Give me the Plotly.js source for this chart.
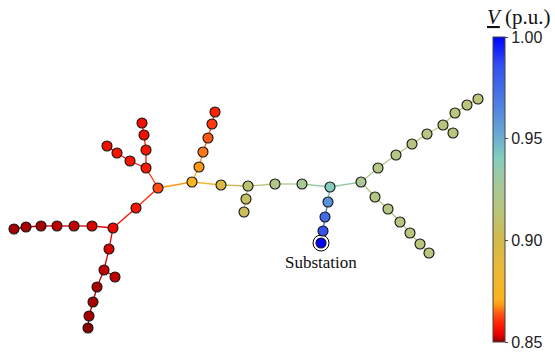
<!DOCTYPE html>
<html>
<head>
<meta charset="utf-8">
<script src="https://cdn.plot.ly/plotly-3.0.1.min.js"></script>
<style>html,body{margin:0;padding:0;background:#fff;}#chart{width:555px;height:356px;}</style>
</head>
<body>
<div id="chart"></div>
<script>
// Node layout positions (graph drawing coordinates) and bus voltages (p.u.)
var nodeX = [321,323,325,328,330,302,275,248,246,244,221,192,199,203,208,212,215,158,146,146,144,142,130,117,107,136,113,92,74,57,41,26,14,109,104,115,97,93,89,88,361,378,396,412,427,443,453,455,467,478,375,388,400,410,420,429];
var nodeY = [243,231,217,202,187,184,184,186,199,212,185,182,167,152,138,124,112,188,168,150,135,123,161,153,146,208,228,226,226,226,226,227,229,249,270,277,287,302,316,328,182,168,155,144,134,125,133,113,105,99,197,209,222,233,244,253];
var voltage = [1.000,0.985,0.975,0.960,0.940,0.926,0.920,0.912,0.907,0.905,0.895,0.873,0.868,0.866,0.864,0.861,0.859,0.863,0.858,0.857,0.856,0.856,0.857,0.857,0.856,0.857,0.855,0.853,0.852,0.852,0.851,0.851,0.851,0.853,0.852,0.852,0.851,0.851,0.851,0.850,0.925,0.919,0.918,0.917,0.916,0.915,0.915,0.915,0.914,0.914,0.919,0.918,0.917,0.916,0.915,0.915];
var edgeFrom = [0,1,2,3,4,5,6,7,8,7,10,11,12,13,14,15,11,17,18,19,20,18,22,23,17,25,26,27,28,29,30,31,26,33,34,34,36,37,38,4,40,41,42,43,44,45,45,47,48,40,50,51,52,53,54];
var edgeTo   = [1,2,3,4,5,6,7,8,9,10,11,12,13,14,15,16,17,18,19,20,21,22,23,24,25,26,27,28,29,30,31,32,33,34,35,36,37,38,39,40,41,42,43,44,45,46,47,48,49,50,51,52,53,54,55];
var substationIndex = 0;
var vMin = 0.85, vMax = 1.00;
var colorTicks = [0.85, 0.90, 0.95, 1.00];

var cscale = [
  [0.0,   'rgb(140,0,0)'],
  [0.023, 'rgb(230,0,0)'],
  [0.057, 'rgb(255,30,0)'],
  [0.09,  'rgb(255,80,20)'],
  [0.12,  'rgb(255,150,20)'],
  [0.14,  'rgb(250,180,30)'],
  [0.24,  'rgb(235,185,55)'],
  [0.333, 'rgb(210,185,75)'],
  [0.433, 'rgb(185,197,125)'],
  [0.52,  'rgb(165,200,155)'],
  [0.607, 'rgb(130,205,190)'],
  [0.667, 'rgb(110,175,210)'],
  [0.773, 'rgb(80,130,225)'],
  [0.907, 'rgb(50,80,240)'],
  [1.0,   'rgb(0,0,255)']
];
function parseRGB(s){ return s.match(/\d+/g).map(Number); }
function colorAt(v){
  var t = Math.max(0, Math.min(1, (v - vMin) / (vMax - vMin)));
  for (var i = 1; i < cscale.length; i++) {
    if (t <= cscale[i][0]) {
      var a = cscale[i-1], b = cscale[i];
      var f = (t - a[0]) / (b[0] - a[0]);
      var ca = parseRGB(a[1]), cb = parseRGB(b[1]);
      return 'rgb(' + ca.map(function(c, k){ return Math.round(c + (cb[k]-c)*f); }).join(',') + ')';
    }
  }
  return cscale[cscale.length-1][1];
}

var traces = [];
for (var e = 0; e < edgeFrom.length; e++) {
  var a = edgeFrom[e], b = edgeTo[e];
  traces.push({
    type: 'scatter', mode: 'lines',
    x: [nodeX[a], nodeX[b]], y: [nodeY[a], nodeY[b]],
    line: {color: colorAt((voltage[a] + voltage[b]) / 2), width: 1.3},
    hoverinfo: 'skip', showlegend: false
  });
}
// outer ring of substation
traces.push({
  type: 'scatter', mode: 'markers',
  x: [nodeX[substationIndex]], y: [nodeY[substationIndex]],
  marker: {size: 16, color: 'white', line: {color: 'black', width: 1}},
  hoverinfo: 'skip', showlegend: false
});
traces.push({
  type: 'scatter', mode: 'markers',
  x: nodeX, y: nodeY,
  marker: {
    size: 10, color: voltage, colorscale: cscale, cmin: vMin, cmax: vMax,
    line: {color: '#111', width: 1.1},
    showscale: true,
    colorbar: {
      x: 493/555, xanchor: 'left', xpad: 0,
      y: 1 - 37/356, yanchor: 'top', ypad: 0,
      lenmode: 'pixels', len: 305,
      thickness: 12,
      outlinewidth: 1, outlinecolor: '#444',
      tickvals: colorTicks, ticktext: colorTicks.map(function(v){ return v.toFixed(2); }),
      ticks: 'outside', ticklen: 3, tickcolor: '#444',
      tickfont: {family: 'Liberation Sans, Arial, sans-serif', size: 16, color: '#222'}
    }
  },
  hoverinfo: 'text', text: voltage.map(function(v){ return v.toFixed(3); }), showlegend: false
});

var layout = {
  width: 555, height: 356,
  margin: {l: 0, r: 0, t: 0, b: 0},
  paper_bgcolor: 'white', plot_bgcolor: 'white',
  xaxis: {range: [0, 555], visible: false, fixedrange: true},
  yaxis: {range: [356, 0], visible: false, fixedrange: true},
  annotations: [
    {x: nodeX[substationIndex], y: 262, xref: 'x', yref: 'y', text: 'Substation', showarrow: false,
     font: {family: 'Liberation Serif, Times New Roman, serif', size: 17, color: '#111'}},
    {x: 519, y: 17, xref: 'x', yref: 'y', text: '<i><u>V</u></i> (p.u.)', showarrow: false,
     font: {family: 'Liberation Serif, Times New Roman, serif', size: 21, color: '#111'}}
  ]
};
Plotly.newPlot('chart', traces, layout, {displayModeBar: false, staticPlot: true});
</script>
</body>
</html>
